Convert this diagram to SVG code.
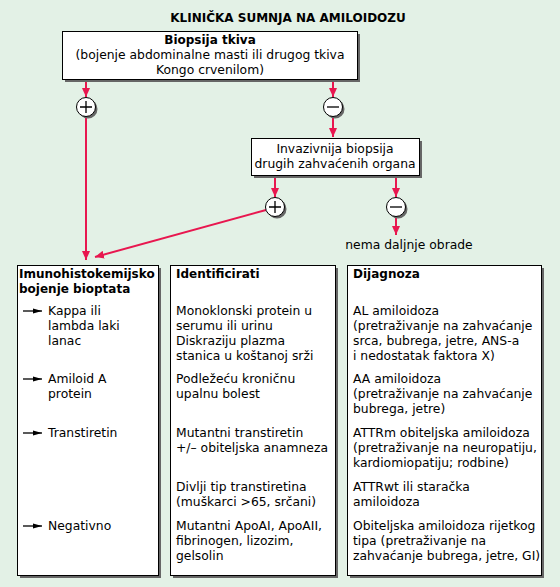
<svg xmlns="http://www.w3.org/2000/svg" width="560" height="587" viewBox="0 0 560 587">
<style>
text{font-family:"DejaVu Sans",Verdana,sans-serif;font-size:12.35px;fill:#000}
.b{font-weight:bold;font-size:12px}
.c{text-anchor:middle}
.box{fill:#fff;stroke:#000;stroke-width:1}
.sh{fill:#666}
.con{stroke:#e8174f;stroke-width:2;fill:none}
.sign{stroke:#000;stroke-width:1.3;fill:none}
.ar{stroke:#000;stroke-width:1.3}
</style>
<defs>
<marker id="ah" markerUnits="userSpaceOnUse" markerWidth="9" markerHeight="8" refX="9" refY="4" orient="auto">
<path d="M0,0 L9,4 L0,8 z" fill="#e8174f"/>
</marker>
<marker id="bh" markerUnits="userSpaceOnUse" markerWidth="9" markerHeight="6" refX="9" refY="3" orient="auto">
<path d="M0,0.5 L9,3 L0,5.5 z" fill="#000"/>
</marker>
</defs>
<rect width="560" height="587" fill="#e3f1e6"/>
<text id="title" class="b c" x="288" y="22">KLINIČKA SUMNJA NA AMILOIDOZU</text>

<g id="connectors">
<line class="con" x1="86" y1="81" x2="86" y2="97" marker-end="url(#ah)"/>
<line class="con" x1="86" y1="117" x2="86" y2="260" marker-end="url(#ah)"/>
<line class="con" x1="333" y1="81" x2="333" y2="97" marker-end="url(#ah)"/>
<line class="con" x1="333" y1="117" x2="333" y2="137" marker-end="url(#ah)"/>
<line class="con" x1="275" y1="177" x2="275" y2="197" marker-end="url(#ah)"/>
<line class="con" x1="266" y1="210" x2="95" y2="257" marker-end="url(#ah)"/>
<line class="con" x1="396" y1="177" x2="396" y2="197" marker-end="url(#ah)"/>
<line class="con" x1="396" y1="217" x2="396" y2="235" marker-end="url(#ah)"/>
</g>

<g id="biopsija">
<rect class="sh" x="65" y="34" width="295" height="48"/>
<rect class="box" x="62.5" y="31.5" width="295" height="48"/>
<text class="b c" x="210" y="44">Biopsija tkiva</text>
<text class="c" x="210" y="59">(bojenje abdominalne masti ili drugog tkiva</text>
<text class="c" x="210" y="74">Kongo crvenilom)</text>
</g>

<g id="plus1">
<circle class="sh" cx="88" cy="109" r="9.5"/>
<circle class="box" cx="86" cy="107" r="9.5"/>
<path class="sign" d="M80,107 H92 M86,101 V113"/>
</g>

<g id="minus1">
<circle class="sh" cx="335" cy="109" r="9.5"/>
<circle class="box" cx="333" cy="107" r="9.5"/>
<path class="sign" d="M327,107 H339"/>
</g>

<g id="invazivnija">
<rect class="sh" x="254" y="141" width="168" height="37"/>
<rect class="box" x="251.5" y="138.5" width="168" height="37"/>
<text class="c" x="335" y="153">Invazivnija biopsija</text>
<text class="c" x="335" y="168">drugih zahvaćenih organa</text>
</g>

<g id="plus2">
<circle class="sh" cx="277" cy="209" r="9.5"/>
<circle class="box" cx="275" cy="207" r="9.5"/>
<path class="sign" d="M269,207 H281 M275,201 V213"/>
</g>

<g id="minus2">
<circle class="sh" cx="398" cy="209" r="9.5"/>
<circle class="box" cx="396" cy="207" r="9.5"/>
<path class="sign" d="M390,207 H402"/>
</g>

<g id="nema">
<text class="c" x="409" y="249">nema daljnje obrade</text>
</g>

<g id="imuno">
<rect class="sh" x="20" y="268" width="141" height="310"/>
<rect class="box" x="17.5" y="265.5" width="141" height="310"/>
<text class="b" x="19" y="278">Imunohistokemijsko</text>
<text class="b" x="19" y="293">bojenje bioptata</text>
<line class="ar" x1="23" y1="311" x2="42" y2="311" marker-end="url(#bh)"/>
<text x="48" y="315">Kappa ili</text>
<text x="48" y="330">lambda laki</text>
<text x="48" y="345">lanac</text>
<line class="ar" x1="23" y1="379" x2="42" y2="379" marker-end="url(#bh)"/>
<text x="48" y="383">Amiloid A</text>
<text x="48" y="398">protein</text>
<line class="ar" x1="23" y1="433" x2="42" y2="433" marker-end="url(#bh)"/>
<text x="48" y="437">Transtiretin</text>
<line class="ar" x1="23" y1="526" x2="42" y2="526" marker-end="url(#bh)"/>
<text x="48" y="530">Negativno</text>
</g>

<g id="identificirati">
<rect class="sh" x="173" y="268" width="165" height="310"/>
<rect class="box" x="170.5" y="265.5" width="165" height="310"/>
<text class="b" x="176" y="278">Identificirati</text>
<text x="176" y="315">Monoklonski protein u</text>
<text x="176" y="330">serumu ili urinu</text>
<text x="176" y="345">Diskraziju plazma</text>
<text x="176" y="360">stanica u koštanoj srži</text>
<text x="176" y="383">Podležeću kroničnu</text>
<text x="176" y="398">upalnu bolest</text>
<text x="176" y="437">Mutantni transtiretin</text>
<text x="176" y="452">+/– obiteljska anamneza</text>
<text x="176" y="491">Divlji tip transtiretina</text>
<text x="176" y="506">(muškarci &gt;65, srčani)</text>
<text x="176" y="530">Mutantni ApoAI, ApoAII,</text>
<text x="176" y="545">fibrinogen, lizozim,</text>
<text x="176" y="560">gelsolin</text>
</g>

<g id="dijagnoza">
<rect class="sh" x="350" y="268" width="194" height="310"/>
<rect class="box" x="347.5" y="265.5" width="194" height="310"/>
<text class="b" x="353" y="278">Dijagnoza</text>
<text x="353" y="315">AL amiloidoza</text>
<text x="353" y="330">(pretraživanje na zahvaćanje</text>
<text x="353" y="345">srca, bubrega, jetre, ANS-a</text>
<text x="353" y="360">i nedostatak faktora X)</text>
<text x="353" y="383">AA amiloidoza</text>
<text x="353" y="398">(pretraživanje na zahvaćanje</text>
<text x="353" y="413">bubrega, jetre)</text>
<text x="353" y="437">ATTRm obiteljska amiloidoza</text>
<text x="353" y="452">(pretraživanje na neuropatiju,</text>
<text x="353" y="467">kardiomiopatiju; rodbine)</text>
<text x="353" y="491">ATTRwt ili staračka</text>
<text x="353" y="506">amiloidoza</text>
<text x="353" y="530">Obiteljska amiloidoza rijetkog</text>
<text x="353" y="545">tipa (pretraživanje na</text>
<text x="353" y="560">zahvaćanje bubrega, jetre, GI)</text>
</g>
</svg>
